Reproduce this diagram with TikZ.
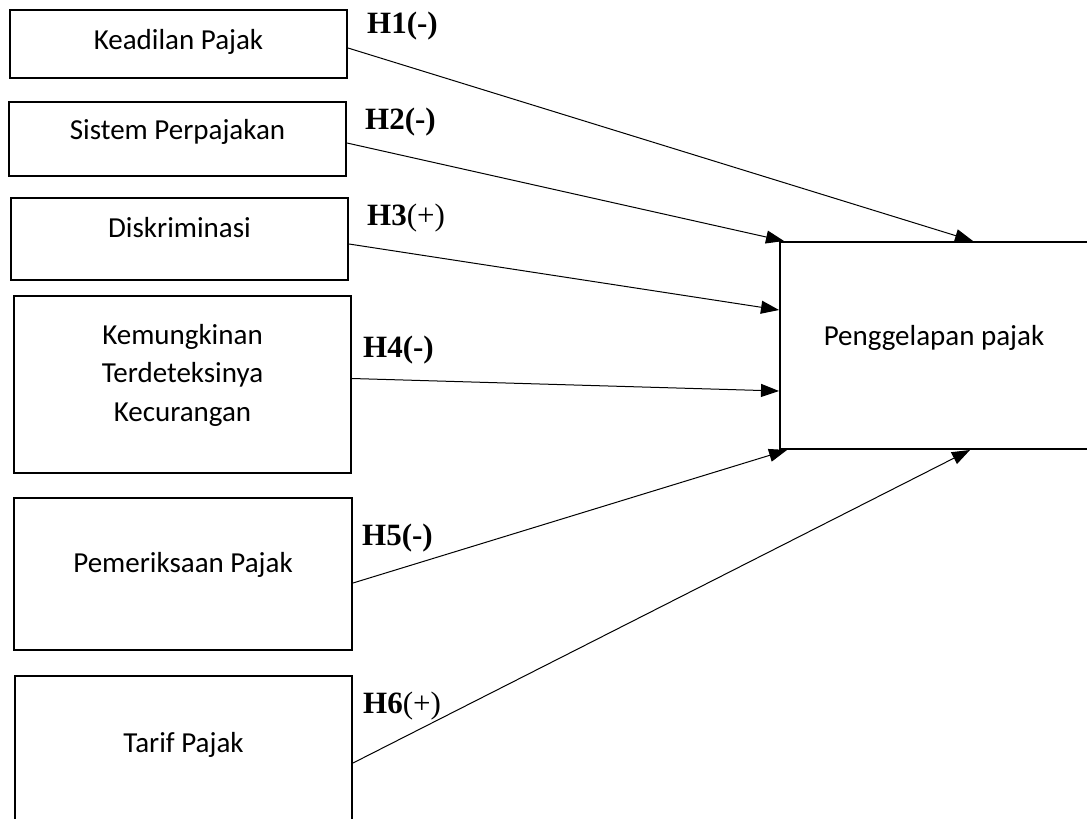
\documentclass[tikz,border=0pt]{standalone}
\usepackage{fontspec}
\setmainfont{Carlito}
\newfontfamily\hypfont{Liberation Serif}
\usetikzlibrary{arrows.meta}

\begin{document}
\begin{tikzpicture}[x=1pt, y=-1pt,
    var/.style={draw, line width=2pt, anchor=north west, inner sep=0pt, font=\fontsize{29}{38.5}\selectfont},
    oneline/.style={text height=20pt, text depth=20pt},
    hyp/.style={anchor=base west, inner sep=0pt, font=\hypfont\fontsize{31}{36}\selectfont},
    link/.style={line width=1pt, -{Triangle[length=18pt, width=13pt]}}]
    \useasboundingbox (0,0) rectangle (1087,819);

    % Independent variables
    \node[var, text height=30pt, text depth=20pt, minimum width=337pt, minimum height=68pt] (keadilan) at (9,9) {Keadilan Pajak};
    \node[var, oneline, minimum width=337pt, minimum height=74pt] (sistem) at (8,101) {Sistem Perpajakan};
    \node[var, oneline, text depth=24pt, minimum width=337pt, minimum height=82pt] (diskriminasi) at (10,197) {Diskriminasi};
    \node[var, align=center, text depth=24pt, minimum width=337pt, minimum height=177pt] (deteksi) at (13,295) {Kemungkinan\\Terdeteksinya\\Kecurangan};
    \node[var, oneline, text depth=24pt, minimum width=338pt, minimum height=152pt] (pemeriksaan) at (13,497) {Pemeriksaan Pajak};
    \node[var, oneline, text depth=28pt, minimum width=337pt, minimum height=160pt] (tarif) at (14,675) {Tarif Pajak};

    % Dependent variable
    \node[var, oneline, minimum width=330pt, minimum height=207pt] (penggelapan) at (779,241) {\hspace*{-22pt}Penggelapan pajak};

    % Hypotheses
    \node[hyp] (h1) at (367,34) {\textbf{H1(-)}};
    \node[hyp] (h2) at (365,129) {\textbf{H2(-)}};
    \node[hyp] (h3) at (367,225) {\textbf{H3}(+)};
    \node[hyp] (h4) at (363,357) {\textbf{H4(-)}};
    \node[hyp] (h5) at (362,545) {\textbf{H5(-)}};
    \node[hyp] (h6) at (363,713) {\textbf{H6}(+)};

    % Paths
    \draw[link] ([yshift=-4pt]keadilan.east) -- ([xshift=194pt]penggelapan.north west);
    \draw[link] ([yshift=-4pt]sistem.east) -- ([xshift=5pt]penggelapan.north west);
    \draw[link] ([yshift=-5pt]diskriminasi.east) -- ([yshift=-69pt]penggelapan.north west);
    \draw[link] ([yshift=6pt]deteksi.east) -- ([yshift=-150pt]penggelapan.north west);
    \draw[link] ([yshift=-9pt]pemeriksaan.east) -- ([xshift=8pt]penggelapan.south west);
    \draw[link] ([yshift=-7pt]tarif.east) -- ([xshift=191pt]penggelapan.south west);
\end{tikzpicture}
\end{document}
